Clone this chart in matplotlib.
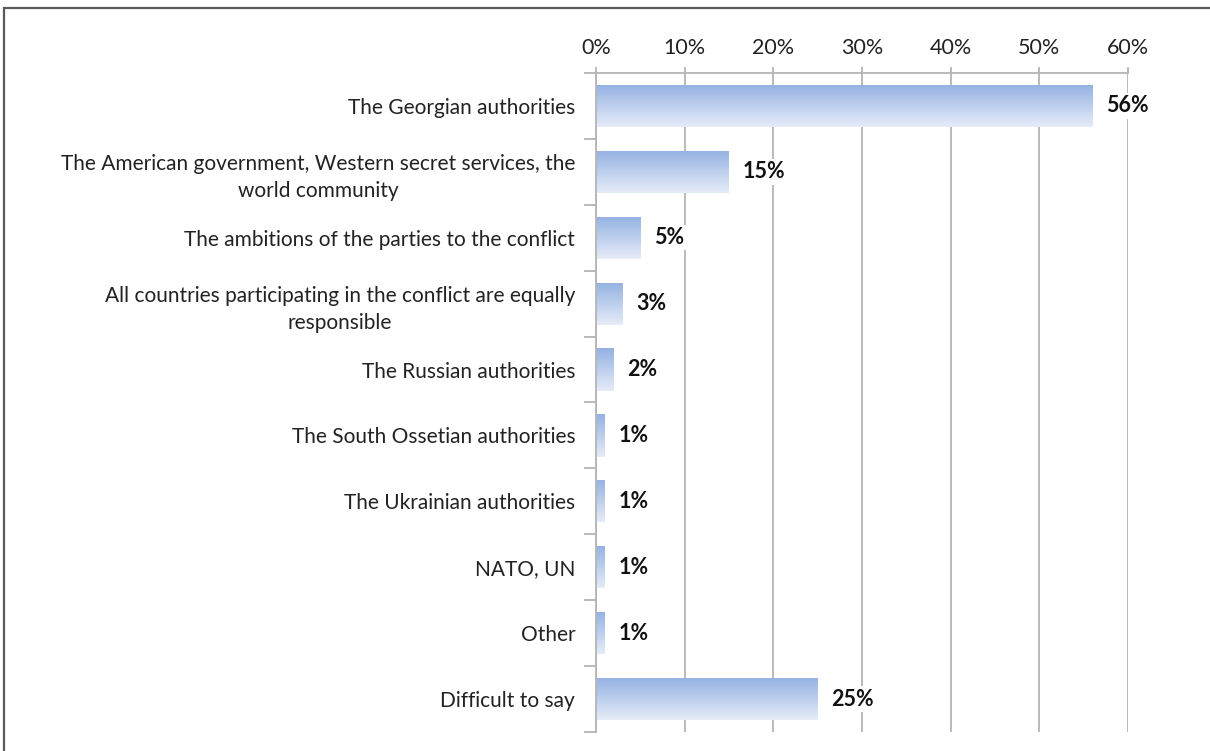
import numpy as np
import matplotlib.pyplot as plt
from matplotlib.patches import Rectangle

# who is responsible for the conflict, share of answers
categories = [
    "The Georgian authorities",
    "The American government, Western secret services, the\nworld community",
    "The ambitions of the parties to the conflict",
    "All countries participating in the conflict are equally\nresponsible",
    "The Russian authorities",
    "The South Ossetian authorities",
    "The Ukrainian authorities",
    "NATO, UN",
    "Other",
    "Difficult to say",
]
values = [56, 15, 5, 3, 2, 1, 1, 1, 1, 25]
ticks = [0, 10, 20, 30, 40, 50, 60]

plt.rcParams["font.family"] = ["Lato", "DejaVu Sans"]

fig = plt.figure(figsize=(12.1, 7.51), dpi=100)
ax = fig.add_axes([596 / 1210, 1 - 732 / 751, 532 / 1210, 659 / 751])

# frame around the whole chart
fig.patches.append(Rectangle((4 / 1210, -0.05), 1.2, 1 - 8 / 751 + 0.05,
                             transform=fig.transFigure, fill=False,
                             edgecolor="#5a5a5a", linewidth=1.6))

n = len(categories)
ypos = np.arange(n)
bar_h = 0.64

# blue gradient, dark at the top of each bar
grad = np.linspace(0, 1, 256).reshape(-1, 1)
cmap = plt.matplotlib.colors.LinearSegmentedColormap.from_list(
    "bar", ["#93b1e2", "#e6ecf8"])

bars = ax.barh(ypos, values, height=bar_h, color="none", edgecolor="none", zorder=2)
for b, v in zip(bars, values):
    y0 = b.get_y()
    im = ax.imshow(grad, cmap=cmap, aspect="auto", zorder=2,
                   extent=[0, v, y0 + bar_h, y0])
    im.set_clip_path(b)
    ax.text(v + 1.5, y0 + bar_h / 2, f"{v}%", va="center", ha="left",
            fontsize=15.5, fontweight="bold", color="#111111", zorder=4,
            bbox=dict(facecolor="white", edgecolor="none", pad=1.5))
ax.set_xlim(0, 60)
ax.set_ylim(n - 0.5, -0.5)

ax.xaxis.tick_top()
ax.set_xticks(ticks)
ax.set_xticklabels([f"{t}%" for t in ticks], fontsize=15.5, color="#222222")
ax.tick_params(axis="x", length=4.5, width=1.3, color="#b4b4b4", pad=6)
ax.grid(axis="x", color="#b4b4b4", linewidth=1.3, zorder=1)
ax.set_axisbelow(True)

ax.set_yticks(ypos)
ax.set_yticklabels(categories, fontsize=15, color="#222222",
                   multialignment="center", linespacing=1.45)
ax.tick_params(axis="y", length=0, pad=15)
ax.set_yticks(np.arange(n + 1) - 0.5, minor=True)
ax.tick_params(axis="y", which="minor", length=9, width=1.3, color="#b4b4b4")

for s in ["right", "bottom"]:
    ax.spines[s].set_visible(False)
ax.spines["top"].set_color("#b4b4b4")
ax.spines["top"].set_linewidth(1.3)
ax.spines["left"].set_color("#b4b4b4")
ax.spines["left"].set_linewidth(1.3)

fig.savefig("out.png", dpi=100)
